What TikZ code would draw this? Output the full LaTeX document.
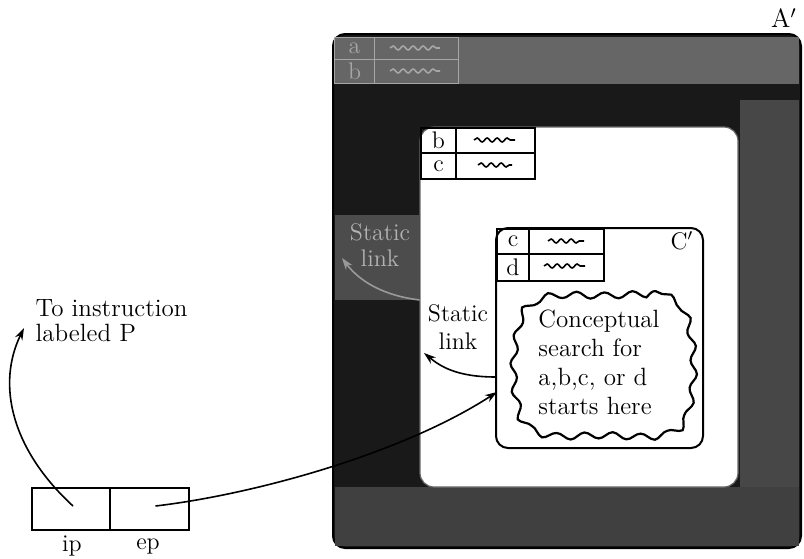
\documentclass[tikz,border=0pt]{standalone}
\usetikzlibrary{arrows.meta,decorations.pathmorphing}

\tikzset{
  cell/.style={draw, inner sep=0pt, anchor=north west},
  wavy/.style={decorate, decoration={snake, segment length=5pt, amplitude=1pt}, line width=0.8pt},
  link/.style={-{Stealth[length=6pt, width=4pt]}, line width=0.8pt},
}

\begin{document}
\begin{tikzpicture}[x=0.5pt, y=-0.5pt, line width=1pt, font=\fontsize{12}{14}\selectfont]
    \useasboundingbox (0,0) rectangle (804,558);

    % draw outer frame A'
    \filldraw[fill=black!90, draw=black, rounded corners=6pt] (333,34) rectangle (801,548);
    \fill[black!60] (335,37) rectangle (799,84);
    \fill[black!72] (740,100) rectangle (799,546);
    \fill[black!75] (335,487) rectangle (799,546);
    \fill[black!70] (335,215) rectangle (419,300);
    \node[scale=1.1] (Alabel) at (784,18) {A$'$};

    % table of A' (faded)
    \begin{scope}[black!35, line width=0.6pt]
        \node[cell, minimum width=20pt, minimum height=11pt] (Aa) at (334,37) {a};
        \node[cell, minimum width=20pt, minimum height=12pt] (Ab) at (334,59) {b};
        \node[cell, minimum width=42pt, minimum height=11pt] (Aaw) at (374,37) {};
        \node[cell, minimum width=42pt, minimum height=12pt] (Abw) at (374,59) {};
        \draw[wavy] (390,48) -- (440,48);
        \draw[wavy] (390,71) -- (440,71);
    \end{scope}

    % static link of B' (faded)
    \node[align=center, black!30, font=\fontsize{12}{13}\selectfont] (slA) at (380,245) {Static\\link};
    \coordinate (Bedge) at (420,300);
    \coordinate (slAtip) at (342,258);
    \draw[link, black!40] (Bedge) .. controls (385,296) and (360,282) .. (slAtip);

    % draw box B'
    \filldraw[fill=white, draw=black!60, line width=0.6pt, rounded corners=7pt] (420,127) rectangle (738,487);
    \node[cell, minimum width=17.5pt, minimum height=12.5pt] (Bb) at (420,127) {b};
    \node[cell, minimum width=39.5pt, minimum height=12.5pt] (Bbw) at (455,127) {};
    \node[cell, minimum width=17.5pt, minimum height=13pt] (Bc) at (420,152) {c};
    \node[cell, minimum width=39.5pt, minimum height=13pt] (Bcw) at (455,152) {};
    \draw[wavy] (474,140) -- (515,140);
    \draw[wavy] (478,165) -- (512,165);

    % draw box C'
    \draw[rounded corners=6pt] (496,228) rectangle (703,448);
    \node (Clabel) at (682,241) {C$'$};
    \node[cell, minimum width=16pt, minimum height=12.5pt] (Cc) at (496,228) {c};
    \node[cell, minimum width=37.5pt, minimum height=12.5pt] (Ccw) at (528,228) {};
    \node[cell, minimum width=16pt, minimum height=13.5pt] (Cd) at (496,253) {d};
    \node[cell, minimum width=37.5pt, minimum height=13.5pt] (Cdw) at (528,253) {};
    \draw[wavy] (548,241) -- (584,241);
    \draw[wavy] (544,266) -- (585,266);

    % cloud
    \draw[decorate, decoration={snake, segment length=14pt, amplitude=1.6pt}, line width=1.1pt]
        plot[smooth cycle, tension=0.7] coordinates {(597,291) (662,294) (684,330) (684,398) (662,430)
                                                     (597,432) (530,429) (509,395) (510,330) (532,295)};
    \node[align=left, font=\fontsize{12.5}{14.5}\selectfont] (cloud) at (599,362)
        {Conceptual\\search for\\a,b,c, or d\\starts here};

    % static link of C'
    \node[align=center] (slC) at (458,327) {Static\\link};
    \coordinate (Cedge) at (496,377);
    \coordinate (slCtip) at (424,353);
    \draw[link] (Cedge) .. controls (456,377) and (440,366) .. (slCtip);

    % draw ip ep box
    \node[cell, minimum width=39pt, minimum height=21pt] (ip) at (31,487) {};
    \node[cell, minimum width=39.5pt, minimum height=21pt] (ep) at (109,487) {};
    \node (iplabel) at (72,546) {ip};
    \node (eplabel) at (148,546) {ep};

    % instruction label
    \node[align=left, anchor=west, font=\fontsize{12.5}{12.5}\selectfont] (instr) at (28,321) {To instruction\\labeled P};
    \coordinate (instrtip) at (24,328);
    \coordinate (Centry) at (497,392);

    % draw pointers
    \draw[link] ([xshift=1pt,yshift=1.5pt]ip.center) .. controls (12,450) and (-4,385) .. (instrtip);
    \draw[link] ([xshift=3pt,yshift=1.5pt]ep.center) .. controls (250,495) and (400,455) .. (Centry);
\end{tikzpicture}
\end{document}
